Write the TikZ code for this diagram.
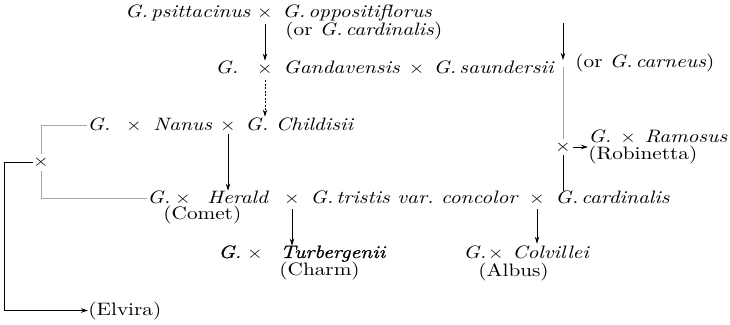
\documentclass[tikz,border=0pt]{standalone}
\usepackage{amsmath}
\usepackage{fontspec}
\setmainfont{lmroman10}[Extension=.otf,UprightFont=*-regular,ItalicFont=*-italic,
  BoldFont=*-bold,BoldItalicFont=*-bolditalic,FakeStretch=1.18]
\newfontface\heavyit{lmroman10-italic}[Extension=.otf,FakeStretch=1.18,FakeBold=0.8]
\usepackage{tikz}
\usetikzlibrary{arrows.meta}

\newcommand{\tms}{{\fontsize{17}{17}\selectfont\upshape\symbol{"00D7}}}

\begin{document}
\begin{tikzpicture}[x=1pt,y=-1pt,font=\fontsize{18}{20}\selectfont,
    >={Stealth[length=7pt,width=4.5pt]},line width=0.8pt,
    every node/.style={inner sep=0pt,text height=11pt,text depth=2pt},
    cross/.style={text height=8.5pt,text depth=0pt},
    faint/.style={gray!70}]
    \useasboundingbox (0,0) rectangle (730,324);
    % first cross
    \node[anchor=base east] (psit) at (251,17) {\textit{G.\,psittacinus}};
    \node[cross] (xa) at (265,12.75) {\tms};
    \node[anchor=base west] (oppo) at (282,17) {\textit{G.\,oppositiflorus}};
    \node[anchor=base west] (orcard) at (285,35) {(or \textit{G.\,cardinalis})};
    \node[anchor=base west] (gand0) at (215,73) {\textit{G.}};
    \node[cross] (xb) at (265,68.75) {\tms};
    \node[anchor=base west] (gand) at (283,73) {\textit{Gandavensis}\enspace\tms\enspace\textit{G.\,saundersii}};
    \draw[->,shorten <=7pt,shorten >=3.5pt] (xa.south) -- (xb.north);
    % Nanus row
    \node[anchor=base west] (nan0) at (87,130) {\textit{G.}};
    \node[cross] (xc) at (134,125.75) {\tms};
    \node[anchor=base west] (nanus) at (153,130) {\textit{Nanus}};
    \node[cross] (xd) at (228,125.75) {\tms};
    \node[anchor=base west] (chil) at (245,130) {\textit{G.\ Childisii}};
    \draw[->,dashed,dash pattern=on 2pt off 1.5pt,shorten <=7pt,shorten >=2pt] (xb.south) -- (xb.south |- chil.north);
    % right column
    \coordinate (ctop) at (563,23);
    \coordinate (cmid) at (563,60);
    \node[anchor=base west] (carn) at (575,67) {(or \textit{G.\,carneus})};
    \node[cross] (xr) at (563,147) {\tms};
    \node[anchor=base west] (ramo) at (588,142) {\textit{G.}\enspace\tms\enspace\textit{Ramosus}};
    \node[anchor=base west] (robi) at (588,159) {(Robinetta)};
    \draw[->] (ctop) -- (cmid);
    \draw[faint] ([yshift=-7pt]cmid) -- ([yshift=3pt]xr.north);
    \draw[->,shorten <=2pt] (xr.east) -- (xr.east -| ramo.west);
    % Herald row
    \node[anchor=base west] (her0) at (147,203) {\textit{G.}};
    \node[cross] (xe) at (183,198.75) {\tms};
    \node[anchor=base west] (hera) at (207,203) {\textit{Herald}};
    \node[cross] (xf) at (292,198.75) {\tms};
    \node[anchor=base west] (tris) at (310,203) {\textit{G.\,tristis var.\ concolor}};
    \node[cross] (xg) at (537,198.75) {\tms};
    \node[anchor=base west] (card) at (555,203) {\textit{G.\,cardinalis}};
    \node[anchor=base west] (come) at (163,219) {(Comet)};
    \draw[->,shorten <=4pt,shorten >=1pt] (xd.south) -- (xd.south |- hera.north);
    \draw[shorten <=3pt,shorten >=1pt] (xr.south) -- (xr.south |- card.north);
    % offspring
    \node[anchor=base west] (tur0) at (218,258) {\heavyit G.};
    \node[cross] (xt) at (255,253.75) {\tms};
    \node[anchor=base west] (turb) at (280,258) {\heavyit Turbergenii};
    \node[anchor=base west] (char) at (279,275) {(Charm)};
    \node[anchor=base west] (col0) at (463,258) {\textit{G.}};
    \node[cross] (xv) at (496,253.75) {\tms};
    \node[anchor=base west] (colv) at (512,258) {\textit{Colvillei}};
    \node[anchor=base west] (albu) at (478,276) {(Albus)};
    \draw[->,shorten <=6pt,shorten >=1pt] (xf.south) -- (xf.south |- turb.north);
    \draw[->,shorten <=6pt,shorten >=3pt] (xg.south) -- (xg.south |- colv.north);
    % Elvira
    \node[cross] (xl) at (41,162) {\tms};
    \node[anchor=base west] (elvi) at (88,315) {(Elvira)};
    \draw[faint] (nan0.west) -| ([yshift=3pt]xl.north);
    \draw[faint] ([yshift=-4pt]xl.south) |- (her0.west);
    \draw[->] (xl.west) -- ++(-28,0) |- (elvi.west);
\end{tikzpicture}
\end{document}
